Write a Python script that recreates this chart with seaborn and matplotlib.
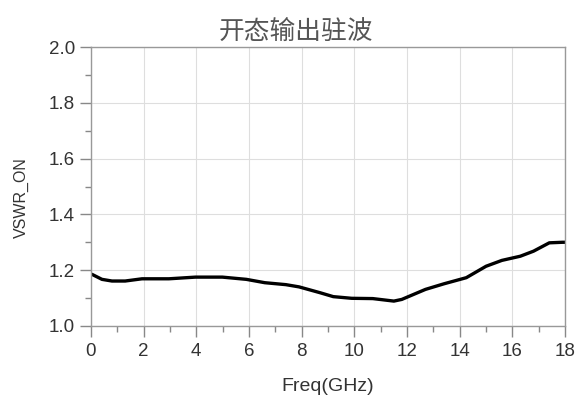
import matplotlib
matplotlib.use("Agg")
import matplotlib.pyplot as plt
import seaborn as sns
import pandas as pd
from matplotlib.ticker import MultipleLocator, FormatStrFormatter

freq = [0.04, 0.42, 0.8, 1.3, 1.94, 2.96, 3.97, 4.99, 5.9, 6.6, 7.4, 7.9, 8.7, 9.2,
        9.9, 10.7, 11.5, 11.8, 12.7, 13.4, 14.25, 15.0, 15.6, 16.3, 16.8, 17.4, 17.9, 18.0]
vswr = [1.185, 1.167, 1.161, 1.161, 1.169, 1.169, 1.175, 1.175, 1.167, 1.155, 1.148, 1.140,
        1.119, 1.105, 1.099, 1.098, 1.089, 1.095, 1.131, 1.151, 1.173, 1.214, 1.235, 1.25,
        1.268, 1.298, 1.30, 1.30]
title = "开态输出驻波"
xlabel = "Freq(GHz)"
ylabel = "VSWR_ON"

sns.set_theme(style="white")
plt.rcParams['font.family'] = ['Liberation Sans', 'Noto Sans CJK SC', 'DejaVu Sans']

df = pd.DataFrame({"freq": freq, "vswr": vswr})
fig = plt.figure(figsize=(5.79, 3.96), dpi=100)
ax = fig.add_axes([0.157, 0.177, 0.819, 0.704])
sns.lineplot(data=df, x="freq", y="vswr", ax=ax, color="black", linewidth=2.4)

ax.set_xlim(0, 18)
ax.set_ylim(1.0, 2.0)
ax.xaxis.set_major_locator(MultipleLocator(2))
ax.xaxis.set_minor_locator(MultipleLocator(1))
ax.yaxis.set_major_locator(MultipleLocator(0.2))
ax.yaxis.set_minor_locator(MultipleLocator(0.1))
ax.yaxis.set_major_formatter(FormatStrFormatter('%.1f'))
ax.grid(True, which="major", color="#dedede", linewidth=0.8)
for s in ax.spines.values():
    s.set_color("#999999")
    s.set_linewidth(1.0)
ax.tick_params(which="major", direction="out", length=8, width=1, color="#888888",
               labelsize=13.5, labelcolor="#333333", left=True, bottom=True)
ax.tick_params(axis="y", which="major", pad=3.5)
ax.tick_params(axis="x", which="major", pad=4)
ax.tick_params(which="minor", direction="out", length=4, width=1, color="#888888",
               left=True, bottom=True)
ax.set_xlabel(xlabel, fontsize=14, color="#333333", labelpad=13)
ax.set_ylabel(ylabel, fontsize=11.5, color="#333333", labelpad=14, y=0.46)
ax.set_title(title, fontsize=18.5, color="#555555", pad=6, x=0.432,
             family=['Noto Sans CJK SC', 'DejaVu Sans'], fontweight="light")
fig.savefig("out.png", dpi=100)
